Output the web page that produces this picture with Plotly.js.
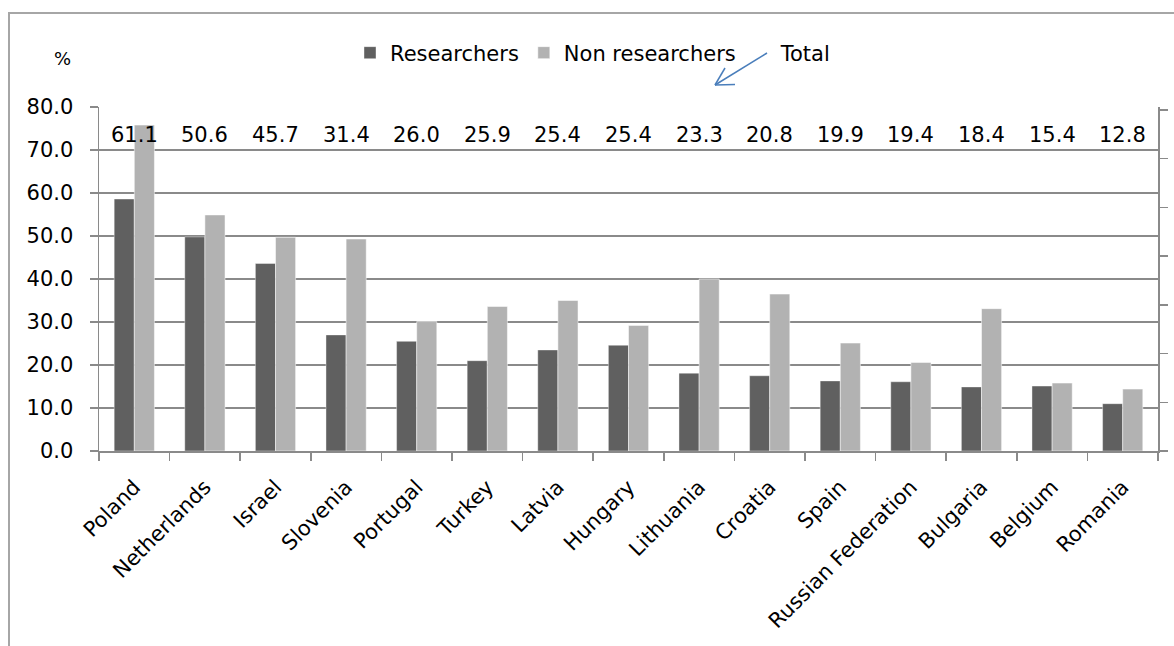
<!DOCTYPE html>
<html>
<head>
<meta charset="utf-8">
<script src="https://cdn.plot.ly/plotly-3.0.1.min.js"></script>
<style>
  html, body { margin: 0; padding: 0; background: #fff; width: 1174px; height: 646px; overflow: hidden; }
  #chart { position: absolute; left: 8px; top: 12px; width: 1164px; height: 634px;
           border-left: 2px solid #a6a6a6; border-top: 2px solid #a6a6a6; }
</style>
</head>
<body>
<div id="chart"></div>
<script>
const categories = ["Poland", "Netherlands", "Israel", "Slovenia", "Portugal", "Turkey", "Latvia", "Hungary",
  "Lithuania", "Croatia", "Spain", "Russian Federation", "Bulgaria", "Belgium", "Romania"];
const researchers = [58.6, 49.8, 43.6, 27.0, 25.5, 21.0, 23.5, 24.6, 18.1, 17.5, 16.3, 16.1, 14.9, 15.1, 11.0];
const nonResearchers = [75.8, 54.9, 49.7, 49.3, 30.1, 33.6, 35.0, 29.2, 40.0, 36.5, 25.1, 20.6, 33.1, 15.8, 14.4];
const totals = [61.1, 50.6, 45.7, 31.4, 26.0, 25.9, 25.4, 25.4, 23.3, 20.8, 19.9, 19.4, 18.4, 15.4, 12.8];
const seriesNames = ["Researchers", "Non researchers", "Total"];
const yTitle = "%";

const FONT = "DejaVu Sans, Verdana, sans-serif";
const FS = 21;
const W = 1164, H = 632;
const M = { l: 89, r: 16, t: 93, b: 195 };
const PW = W - M.l - M.r, PH = H - M.t - M.b;
// convert page pixel position to paper coords
function px(x) { return (x - 10 - M.l) / PW; }
function py(y) { return (14 + M.t + PH - y) / PH; }

const traces = [
  { type: "bar", name: seriesNames[0], x: categories, y: researchers,
    marker: { color: "#606060", line: { color: "rgba(255,255,255,0.4)", width: 1 } }, hoverinfo: "x+y" },
  { type: "bar", name: seriesNames[1], x: categories, y: nonResearchers,
    marker: { color: "#b2b2b2", line: { color: "rgba(255,255,255,0.5)", width: 1 } }, hoverinfo: "x+y" },
  { type: "scatter", mode: "lines", name: seriesNames[2], x: categories, y: totals, yaxis: "y2",
    line: { color: "rgba(0,0,0,0)", width: 0 }, hoverinfo: "skip" }
];

const totalLabelLevel = 73.4;
const annotations = totals.map((v, i) => ({
  x: categories[i], y: totalLabelLevel, xref: "x", yref: "y", text: v.toFixed(1),
  showarrow: false, font: { family: FONT, size: FS, color: "#000" }
}));
annotations.push({
  x: px(62), y: py(59), xref: "paper", yref: "paper", xanchor: "center", yanchor: "middle",
  text: yTitle, showarrow: false, font: { family: FONT, size: 18, color: "#000" }
});

function seg(x1, y1, x2, y2) {
  return { type: "line", xref: "paper", yref: "paper", x0: px(x1), y0: py(y1), x1: px(x2), y1: py(y2),
    line: { color: "#4a7ebb", width: 1.5 } };
}
const shapes = [
  seg(767, 53, 715, 85),
  seg(715, 85, 725, 68),
  seg(715, 85, 735, 84.5)
];

const layout = {
  width: W, height: H,
  margin: M,
  paper_bgcolor: "#fff", plot_bgcolor: "#fff",
  font: { family: FONT, size: FS, color: "#000" },
  barmode: "group", bargap: 0.43, bargroupgap: 0,
  showlegend: true,
  legend: { orientation: "h", x: px(350), xanchor: "left", y: py(53), yanchor: "middle",
    font: { family: FONT, size: FS, color: "#000" }, bgcolor: "rgba(0,0,0,0)", traceorder: "normal" },
  xaxis: {
    type: "category", tickangle: -45, showline: true, linecolor: "#8a8a8a", linewidth: 1.5,
    ticks: "outside", tickson: "boundaries", ticklen: 8, tickcolor: "#8a8a8a", tickwidth: 1.5,
    ticklabelstandoff: 14,
    showgrid: false, tickfont: { family: FONT, size: FS, color: "#000" }, automargin: false
  },
  yaxis: {
    range: [0, 80], dtick: 10, tickformat: ".1f", showline: true, linecolor: "#8a8a8a", linewidth: 1.5,
    ticks: "outside", ticklen: 8, tickcolor: "#8a8a8a", tickwidth: 1.5, ticklabelstandoff: 12,
    showgrid: true, gridcolor: "#8a8a8a", gridwidth: 1.5, zeroline: false,
    tickfont: { family: FONT, size: FS, color: "#000" }, automargin: false
  },
  yaxis2: {
    overlaying: "y", side: "right", range: [0, 7.06], dtick: 1, showticklabels: false,
    showline: true, linecolor: "#8a8a8a", linewidth: 1.5, ticks: "outside", ticklen: 8,
    tickcolor: "#8a8a8a", tickwidth: 1.5, showgrid: false, zeroline: false, automargin: false
  },
  annotations: annotations,
  shapes: shapes
};

Plotly.newPlot("chart", traces, layout, { displayModeBar: false, staticPlot: true });
</script>
</body>
</html>
